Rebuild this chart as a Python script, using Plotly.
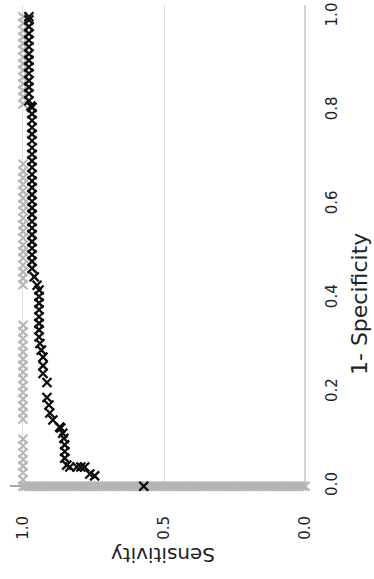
import plotly.graph_objects as go

# ROC points: x = 1 - specificity (false positive rate), y = sensitivity
# Reference model (grey): climbs the sensitivity axis at FPR 0, then runs along sensitivity 1.0
grey_fpr = [
    0.0, 0.0, 0.0, 0.0, 0.0, 0.0, 0.0, 0.0, 0.0, 0.0,
    0.0, 0.0, 0.0, 0.0, 0.0, 0.0, 0.0, 0.0, 0.0, 0.0,
    0.0, 0.0, 0.0, 0.0, 0.0, 0.0, 0.0, 0.0, 0.0, 0.0,
    0.0, 0.0, 0.0, 0.0, 0.0, 0.0, 0.0, 0.0, 0.0, 0.0,
    0.0, 0.0, 0.0, 0.0, 0.0, 0.0, 0.0, 0.0, 0.0, 0.0,
    0.0, 0.0, 0.0, 0.0, 0.0, 0.0, 0.0, 0.0, 0.0, 0.0,
    0.0, 0.0, 0.0, 0.0, 0.0, 0.0, 0.0, 0.0, 0.0, 0.0,
    0.0, 0.0, 0.0, 0.0, 0.0, 0.0, 0.0, 0.0, 0.0, 0.0,
    0.0, 0.0, 0.0, 0.0, 0.0, 0.0, 0.0, 0.0, 0.0, 0.0,
    0.0, 0.0, 0.0, 0.0, 0.0, 0.0, 0.0, 0.0, 0.0, 0.0,
    0.0,
    0.014, 0.029, 0.043, 0.057, 0.071, 0.086, 0.100,
    0.143, 0.157, 0.171, 0.186, 0.200, 0.214, 0.229, 0.243, 0.257, 0.271,
    0.286, 0.300, 0.314, 0.329, 0.343,
    0.429, 0.443, 0.457, 0.471, 0.486, 0.500, 0.514, 0.529, 0.543, 0.557,
    0.571, 0.586, 0.600, 0.614, 0.629, 0.643, 0.657, 0.671, 0.686,
    0.814, 0.829, 0.843, 0.857, 0.871, 0.886, 0.900, 0.914, 0.929, 0.943,
    0.957, 0.971, 0.986, 1.000,
]
grey_sens = [
    0.00, 0.01, 0.02, 0.03, 0.04, 0.05, 0.06, 0.07, 0.08, 0.09,
    0.10, 0.11, 0.12, 0.13, 0.14, 0.15, 0.16, 0.17, 0.18, 0.19,
    0.20, 0.21, 0.22, 0.23, 0.24, 0.25, 0.26, 0.27, 0.28, 0.29,
    0.30, 0.31, 0.32, 0.33, 0.34, 0.35, 0.36, 0.37, 0.38, 0.39,
    0.40, 0.41, 0.42, 0.43, 0.44, 0.45, 0.46, 0.47, 0.48, 0.49,
    0.50, 0.51, 0.52, 0.53, 0.54, 0.55, 0.56, 0.57, 0.58, 0.59,
    0.60, 0.61, 0.62, 0.63, 0.64, 0.65, 0.66, 0.67, 0.68, 0.69,
    0.70, 0.71, 0.72, 0.73, 0.74, 0.75, 0.76, 0.77, 0.78, 0.79,
    0.80, 0.81, 0.82, 0.83, 0.84, 0.85, 0.86, 0.87, 0.88, 0.89,
    0.90, 0.91, 0.92, 0.93, 0.94, 0.95, 0.96, 0.97, 0.98, 0.99,
    1.00,
    1.0, 1.0, 1.0, 1.0, 1.0, 1.0, 1.0,
    1.0, 1.0, 1.0, 1.0, 1.0, 1.0, 1.0, 1.0, 1.0, 1.0,
    1.0, 1.0, 1.0, 1.0, 1.0,
    1.0, 1.0, 1.0, 1.0, 1.0, 1.0, 1.0, 1.0, 1.0, 1.0,
    1.0, 1.0, 1.0, 1.0, 1.0, 1.0, 1.0, 1.0, 1.0,
    1.0, 1.0, 1.0, 1.0, 1.0, 1.0, 1.0, 1.0, 1.0, 1.0,
    1.0, 1.0, 1.0, 1.0,
]

# Test model (black)
black_fpr = [
    0.000, 0.022, 0.026, 0.041, 0.041, 0.041, 0.041, 0.045, 0.060, 0.074,
    0.088, 0.102, 0.113, 0.124, 0.126, 0.141, 0.156, 0.173, 0.189, 0.221,
    0.240, 0.257, 0.275, 0.290, 0.304, 0.318, 0.333, 0.347, 0.361, 0.376,
    0.390, 0.404, 0.418, 0.428, 0.446, 0.464, 0.479, 0.493, 0.507, 0.521,
    0.536, 0.550, 0.564, 0.579, 0.593, 0.607, 0.621, 0.636, 0.650, 0.664,
    0.679, 0.693, 0.707, 0.721, 0.736, 0.750, 0.764, 0.779, 0.793, 0.807,
    0.810, 0.821, 0.836, 0.850, 0.864, 0.879, 0.893, 0.907, 0.921, 0.936,
    0.950, 0.964, 0.979, 0.993, 1.000,
]
black_sens = [
    0.572, 0.746, 0.763, 0.781, 0.795, 0.809, 0.834, 0.845, 0.852, 0.852,
    0.852, 0.855, 0.859, 0.866, 0.870, 0.894, 0.905, 0.908, 0.915, 0.915,
    0.929, 0.929, 0.929, 0.935, 0.940, 0.943, 0.943, 0.943, 0.943, 0.943,
    0.943, 0.943, 0.943, 0.950, 0.960, 0.968, 0.968, 0.968, 0.968, 0.968,
    0.968, 0.968, 0.968, 0.968, 0.968, 0.968, 0.968, 0.968, 0.968, 0.968,
    0.968, 0.968, 0.968, 0.968, 0.968, 0.968, 0.968, 0.968, 0.968, 0.968,
    0.972, 0.979, 0.979, 0.979, 0.979, 0.979, 0.979, 0.979, 0.979, 0.979,
    0.979, 0.979, 0.979, 0.979, 0.979,
]

sens_ticks = [0.0, 0.5, 1.0]
sens_tick_text = ["0.0", "0.5", "1.0"]
fpr_ticks = [0.0, 0.2, 0.4, 0.6, 0.8, 1.0]
fpr_tick_text = ["0.0", "0.2", "0.4", "0.6", "0.8", "1.0"]

FONT = "DejaVu Sans"

fig = go.Figure()
# The chart is laid on its side: sensitivity runs right-to-left along the
# bottom, 1 - specificity runs upward on the right.
fig.add_trace(go.Scatter(
    x=grey_sens, y=grey_fpr, mode="markers", cliponaxis=False,
    marker=dict(symbol="x-thin", size=9, line=dict(width=2.0, color="#b5b5b5")),
    hoverinfo="skip", showlegend=False,
))
fig.add_trace(go.Scatter(
    x=black_sens, y=black_fpr, mode="markers", cliponaxis=False,
    marker=dict(symbol="x-thin", size=9, line=dict(width=2.3, color="#0d0d0d")),
    hoverinfo="skip", showlegend=False,
))

fig.update_layout(
    width=374, height=579,
    margin=dict(l=10, r=68, t=3, b=89),
    paper_bgcolor="white", plot_bgcolor="white",
    font=dict(family=FONT, size=15, color="#222222"),
    xaxis=dict(
        range=[1.046, -0.003],
        tickvals=sens_ticks, ticktext=sens_tick_text, tickangle=-90,
        showgrid=True, gridcolor="#dcdcdc", gridwidth=1.2,
        zeroline=True, zerolinecolor="#d4d4d4", zerolinewidth=1.5,
        showline=False, ticks="outside", ticklen=19, tickcolor="rgba(0,0,0,0)",
        tickfont=dict(family=FONT, size=15, color="#222222"),
    ),
    yaxis=dict(
        side="right",
        range=[-0.008, 1.025],
        tickvals=fpr_ticks, ticktext=fpr_tick_text, tickangle=-90,
        showgrid=False,
        zeroline=True, zerolinecolor="#a8a8a8", zerolinewidth=1.5,
        showline=False, ticks="outside", ticklen=12, tickcolor="rgba(0,0,0,0)",
        tickfont=dict(family=FONT, size=15, color="#222222"),
    ),
    annotations=[
        dict(text="Sensitivity", xref="paper", yref="paper", x=0.517, y=-0.1355,
             xanchor="center", yanchor="middle", textangle=180, showarrow=False,
             font=dict(family=FONT, size=20, color="#222222")),
        dict(text="1- Specificity", xref="paper", yref="paper", x=1.18, y=0.384,
             xanchor="center", yanchor="middle", textangle=-90, showarrow=False,
             font=dict(family=FONT, size=22, color="#222222")),
    ],
)

fig.write_html("out.html")
